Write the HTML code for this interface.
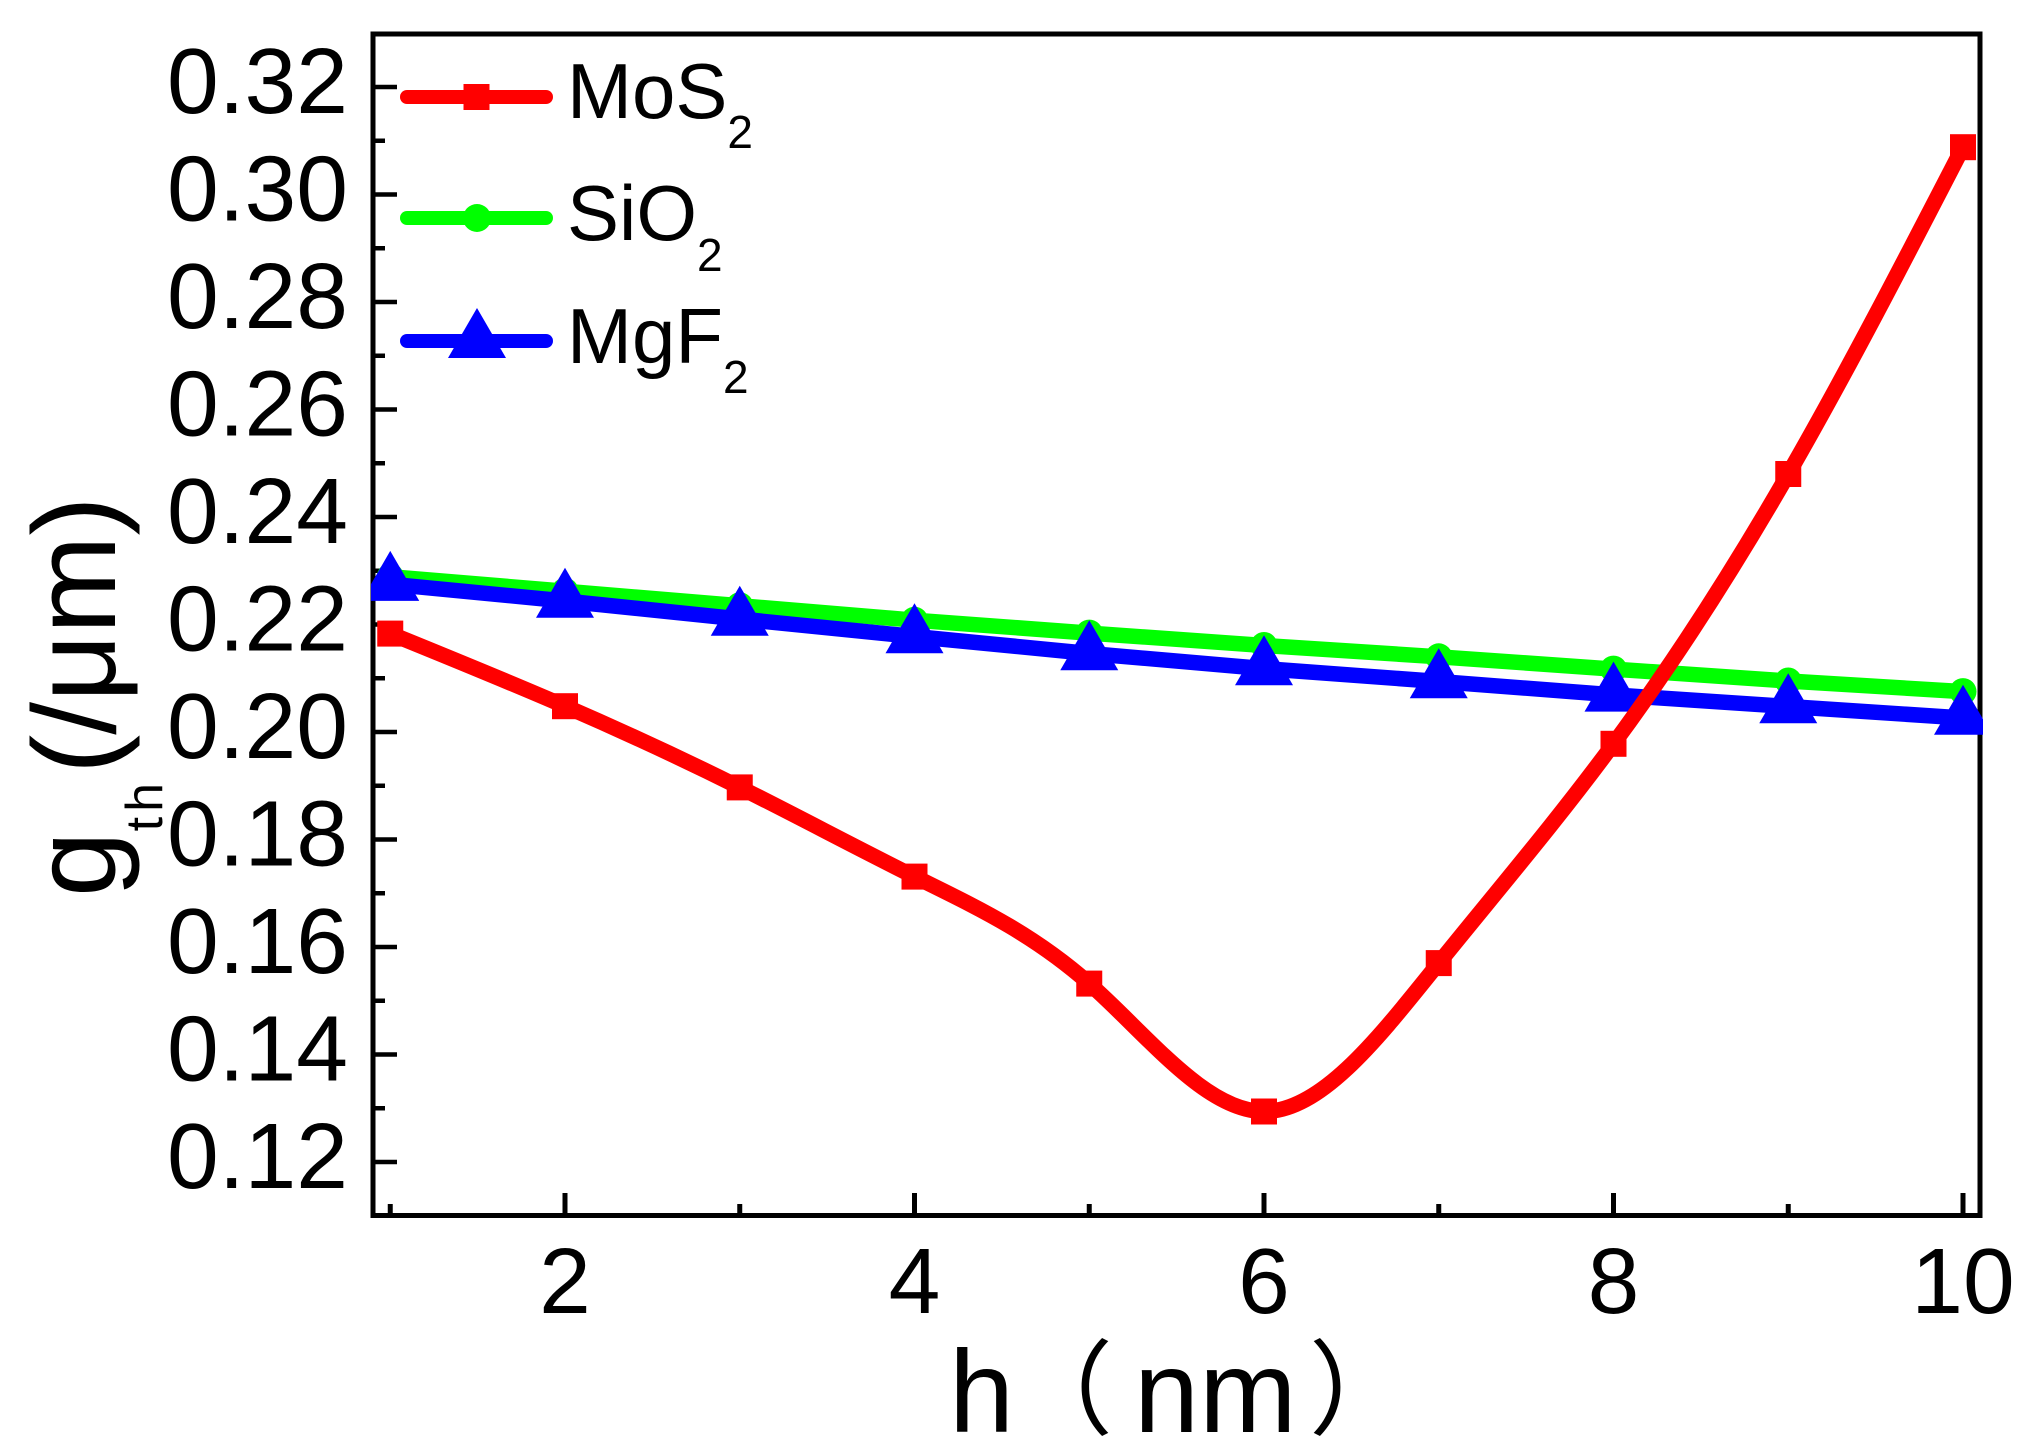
<!DOCTYPE html>
<html>
<head>
<meta charset="utf-8">
<style>
html,body{margin:0;padding:0;background:#fff;}
svg{display:block;}
text{font-family:"Liberation Sans",Arial,sans-serif;fill:#000;}
</style>
</head>
<body>
<svg width="2030" height="1451" viewBox="0 0 2030 1451" xmlns="http://www.w3.org/2000/svg">
<defs>
<clipPath id="pc"><rect x="371" y="30" width="1612" height="1188"/></clipPath>
</defs>
<rect x="0" y="0" width="2030" height="1451" fill="#fff"/>

<!-- frame -->
<rect x="373" y="34" width="1607" height="1181.5" fill="none" stroke="#000" stroke-width="5"/>

<!-- y ticks -->
<g stroke="#000" stroke-width="4.5">
<line x1="373" y1="87" x2="397" y2="87"/>
<line x1="373" y1="194.5" x2="397" y2="194.5"/>
<line x1="373" y1="302" x2="397" y2="302"/>
<line x1="373" y1="409.5" x2="397" y2="409.5"/>
<line x1="373" y1="517" x2="397" y2="517"/>
<line x1="373" y1="624.5" x2="397" y2="624.5"/>
<line x1="373" y1="732" x2="397" y2="732"/>
<line x1="373" y1="839.5" x2="397" y2="839.5"/>
<line x1="373" y1="947" x2="397" y2="947"/>
<line x1="373" y1="1054.5" x2="397" y2="1054.5"/>
<line x1="373" y1="1162" x2="397" y2="1162"/>
<line x1="373" y1="140.75" x2="385" y2="140.75"/>
<line x1="373" y1="248.25" x2="385" y2="248.25"/>
<line x1="373" y1="355.75" x2="385" y2="355.75"/>
<line x1="373" y1="463.25" x2="385" y2="463.25"/>
<line x1="373" y1="570.75" x2="385" y2="570.75"/>
<line x1="373" y1="678.25" x2="385" y2="678.25"/>
<line x1="373" y1="785.75" x2="385" y2="785.75"/>
<line x1="373" y1="893.25" x2="385" y2="893.25"/>
<line x1="373" y1="1000.75" x2="385" y2="1000.75"/>
<line x1="373" y1="1108.25" x2="385" y2="1108.25"/>
</g>
<!-- x ticks -->
<g stroke="#000" stroke-width="5">
<line x1="565" y1="1215.5" x2="565" y2="1193"/>
<line x1="914.5" y1="1215.5" x2="914.5" y2="1193"/>
<line x1="1264" y1="1215.5" x2="1264" y2="1193"/>
<line x1="1613.5" y1="1215.5" x2="1613.5" y2="1193"/>
<line x1="1963" y1="1215.5" x2="1963" y2="1193"/>
<line x1="390.25" y1="1215.5" x2="390.25" y2="1204"/>
<line x1="739.75" y1="1215.5" x2="739.75" y2="1204"/>
<line x1="1089.25" y1="1215.5" x2="1089.25" y2="1204"/>
<line x1="1438.75" y1="1215.5" x2="1438.75" y2="1204"/>
<line x1="1788.25" y1="1215.5" x2="1788.25" y2="1204"/>
</g>

<!-- y tick labels -->
<g font-size="93" text-anchor="end">
<text x="348" y="113">0.32</text>
<text x="348" y="220.5">0.30</text>
<text x="348" y="328">0.28</text>
<text x="348" y="435.5">0.26</text>
<text x="348" y="543">0.24</text>
<text x="348" y="650.5">0.22</text>
<text x="348" y="758">0.20</text>
<text x="348" y="865.5">0.18</text>
<text x="348" y="973">0.16</text>
<text x="348" y="1080.5">0.14</text>
<text x="348" y="1188">0.12</text>
</g>
<!-- x tick labels -->
<g font-size="93" text-anchor="middle">
<text x="565" y="1313">2</text>
<text x="914.5" y="1313">4</text>
<text x="1264" y="1313">6</text>
<text x="1613.5" y="1313">8</text>
<text x="1963" y="1313">10</text>
</g>

<!-- x axis title -->
<text x="949" y="1432" font-size="117">h</text>
<text x="1010" y="1426" font-size="103" style="font-family:'Noto Sans CJK SC','Noto Sans CJK JP',sans-serif;">（</text>
<text x="1134" y="1432" font-size="117">nm</text>
<text x="1309" y="1426" font-size="103" style="font-family:'Noto Sans CJK SC','Noto Sans CJK JP',sans-serif;">）</text>

<!-- y axis title -->
<text transform="translate(115,897) rotate(-90)" font-size="118">g<tspan font-size="52" dy="47" letter-spacing="5">th</tspan><tspan dx="4" dy="-47">(/μm)</tspan></text>

<!-- data -->
<g clip-path="url(#pc)">
<!-- SiO2 -->
<polyline fill="none" stroke="#00FF00" stroke-width="15.5" stroke-linejoin="round" stroke-linecap="round"
 points="390.25,576.7 565,591.2 739.75,605.7 914.5,620.2 1089.25,633.1 1264,645.5 1438.75,656.8 1613.5,669.1 1788.25,681 1963,691.6"/>
<g fill="#00FF00">
<circle cx="390.25" cy="576.7" r="13.5"/>
<circle cx="565" cy="591.2" r="13.5"/>
<circle cx="739.75" cy="605.7" r="13.5"/>
<circle cx="914.5" cy="620.2" r="13.5"/>
<circle cx="1089.25" cy="633.1" r="13.5"/>
<circle cx="1264" cy="645.5" r="13.5"/>
<circle cx="1438.75" cy="656.8" r="13.5"/>
<circle cx="1613.5" cy="669.1" r="13.5"/>
<circle cx="1788.25" cy="681" r="13.5"/>
<circle cx="1963" cy="691.6" r="13.5"/>
</g>
<!-- MgF2 -->
<polyline fill="none" stroke="#0000FF" stroke-width="15.5" stroke-linejoin="round" stroke-linecap="round"
 points="390.25,584.2 565,601 739.75,619 914.5,636.5 1089.25,653.5 1264,668.6 1438.75,681.5 1613.5,694.9 1788.25,706.5 1963,718"/>
<g fill="#0000FF">
<polygon points="390.25,550.9 361.25,600.9 419.25,600.9"/>
<polygon points="565,567.7 536,617.7 594,617.7"/>
<polygon points="739.75,585.7 710.75,635.7 768.75,635.7"/>
<polygon points="914.5,603.2 885.5,653.2 943.5,653.2"/>
<polygon points="1089.25,620.2 1060.25,670.2 1118.25,670.2"/>
<polygon points="1264,635.3 1235,685.3 1293,685.3"/>
<polygon points="1438.75,648.2 1409.75,698.2 1467.75,698.2"/>
<polygon points="1613.5,661.6 1584.5,711.6 1642.5,711.6"/>
<polygon points="1788.25,673.2 1759.25,723.2 1817.25,723.2"/>
<polygon points="1963,684.7 1934,734.7 1992,734.7"/>
</g>
<!-- MoS2 -->
<path fill="none" stroke="#FF0000" stroke-width="15.5" stroke-linejoin="round" stroke-linecap="butt"
 d="M390.25,633.6 C448.5,657.27 506.75,680.93 565,706.2 C623.25,731.47 681.5,758.35 739.75,787.4 C798,816.45 856.25,847.68 914.5,876.6 C972.75,905.52 1031,932.12 1089.25,983.6 C1147.5,1035.08 1205.75,1111.44 1264,1111.5 C1322.25,1111.56 1380.5,1035.31 1438.75,963.1 C1497,890.89 1555.25,822.72 1613.5,743.8 C1671.75,664.88 1730,575.22 1788.25,474 C1846.5,372.78 1904.75,259.99 1963,147.2"/>
<g fill="#FF0000">
<rect x="377.25" y="620.6" width="26" height="26"/>
<rect x="552" y="693.2" width="26" height="26"/>
<rect x="726.75" y="774.4" width="26" height="26"/>
<rect x="901.5" y="863.6" width="26" height="26"/>
<rect x="1076.25" y="970.6" width="26" height="26"/>
<rect x="1251" y="1098.5" width="26" height="26"/>
<rect x="1425.75" y="950.1" width="26" height="26"/>
<rect x="1600.5" y="730.8" width="26" height="26"/>
<rect x="1775.25" y="461" width="26" height="26"/>
<rect x="1950" y="134.2" width="26" height="26"/>
</g>
</g>

<!-- legend -->
<line x1="407" y1="97" x2="546" y2="97" stroke="#FF0000" stroke-width="14" stroke-linecap="round"/>
<rect x="463.5" y="84" width="26" height="26" fill="#FF0000"/>
<line x1="407" y1="218" x2="546" y2="218" stroke="#00FF00" stroke-width="14" stroke-linecap="round"/>
<circle cx="477" cy="218" r="14" fill="#00FF00"/>
<line x1="407" y1="341" x2="546" y2="341" stroke="#0000FF" stroke-width="14" stroke-linecap="round"/>
<polygon points="477,308 448,358 506,358" fill="#0000FF"/>

<text x="567" y="118" font-size="78">MoS<tspan font-size="46" dy="30">2</tspan></text>
<text x="567" y="240" font-size="78">SiO<tspan font-size="46" dy="31">2</tspan></text>
<text x="567" y="363" font-size="78">MgF<tspan font-size="46" dy="30">2</tspan></text>
</svg>
</body>
</html>
